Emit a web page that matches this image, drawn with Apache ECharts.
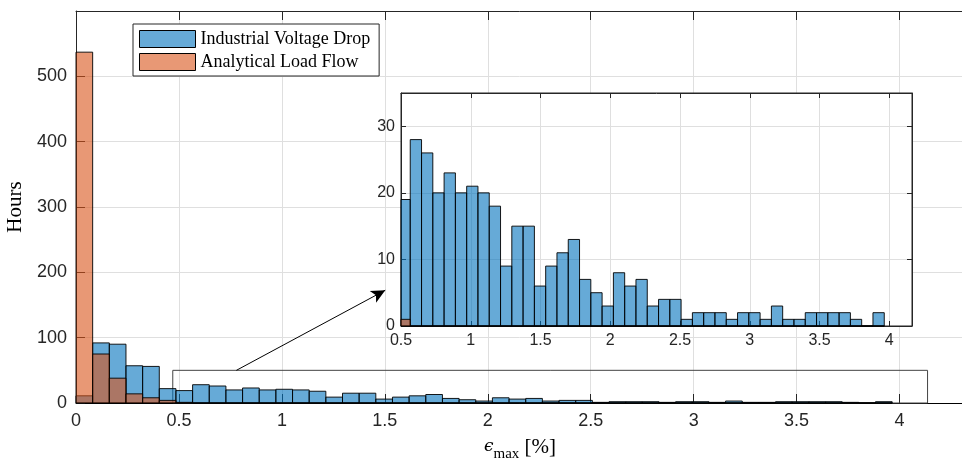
<!DOCTYPE html>
<html><head><meta charset="utf-8">
<script src="https://cdn.jsdelivr.net/npm/echarts@6/dist/echarts.min.js"></script>
<style>html,body{margin:0;padding:0;background:#fff}#c{width:962px;height:467px}</style>
</head><body><div id="c"></div>
<script>
// ---- data (histogram counts, bins of equal width starting at 0) ----
const binWidth = 0.0809;
const seriesNames = ['Industrial Voltage Drop', 'Analytical Load Flow'];
const industrialVoltageDrop = [11,92,90,57,56,22,19,28,26,20,23,20,21,20,18,9,15,15,6,9,11,13,7,5,3,8,6,7,3,4,4,1,2,2,2,1,2,2,1,3,1,1,2,2,2,2,1,0,2];
const analyticalLoadFlow   = [537,75,38,14,8,4,1,0,0,0,0,0,0,0,0,0,0,0,0,0,0,0,0,0,0,0,0,0,0,0,0,0,0,0,0,0,0,0,0,0,0,0,0,0,0,0,0,0,0];
const mainXTicks = [0,0.5,1,1.5,2,2.5,3,3.5,4];
const mainYTicks = [0,100,200,300,400,500];
const insetXTicks = [0.5,1,1.5,2,2.5,3,3.5,4];
const insetYTicks = [0,10,20,30];
// zoom-box annotation (data units of the main axes) and arrow
const zoomBoxX = [0.47, 4.136];
const zoomBoxY = [0, 50];
const arrowFrom = [0.779, 50];
const arrowTo = [1.502, 172.6];

const toBins = arr => arr.map((v, i) => [i * binWidth, (i + 1) * binWidth, v]);

function renderBars(params, api) {
  const x0 = api.value(0), x1 = api.value(1), v = api.value(2);
  const p0 = api.coord([x0, v]);
  const p1 = api.coord([x1, 0]);
  const cs = params.coordSys;
  const r = echarts.graphic.clipRectByRect(
    {x: p0[0], y: p0[1], width: p1[0] - p0[0], height: p1[1] - p0[1]},
    {x: cs.x, y: cs.y, width: cs.width, height: cs.height});
  if (!r) return;
  return {type: 'rect', shape: r, style: {fill: api.visual('color'), stroke: 'rgba(0,0,0,0.9)', lineWidth: 1}};
}

const BLUE = 'rgba(0,114,189,0.6)';
const ORANGE = 'rgba(217,83,25,0.6)';
const AX = '#262626';
const GRIDC = '#dfdfdf';
const sans = 'Liberation Sans, Arial, sans-serif';
const serif = 'Liberation Serif, Times New Roman, serif';

const inTicks = len => ({show: true, inside: true, length: len, lineStyle: {color: AX, width: 1}});
const valFmt = v => String(+v.toFixed(2));

const chart = echarts.init(document.getElementById('c'), null, {renderer: 'canvas'});
chart.setOption({
  animation: false,
  backgroundColor: '#fff',
  legend: {
    data: seriesNames,
    orient: 'vertical',
    left: 133, top: 24,
    padding: [6, 9, 5, 6],
    itemGap: 5,
    itemWidth: 56, itemHeight: 17,
    icon: 'rect',
    itemStyle: {borderColor: '#000', borderWidth: 1},
    textStyle: {fontFamily: serif, fontSize: 18, color: '#000', padding: [0,0,0,0]},
    backgroundColor: '#fff',
    borderColor: AX, borderWidth: 1,
    z: 30,
    selectedMode: false
  },
  grid: [
    {left: 76, top: 11, right: -2, bottom: 64, show: false, containLabel: false, outerBoundsMode: 'none'},
    {left: 401, top: 93, right: 50, bottom: 141, show: true, backgroundColor: '#fff', borderColor: AX, borderWidth: 1, z: 10, containLabel: false, outerBoundsMode: 'none'}
  ],
  xAxis: [
    {gridIndex: 0, type: 'value', min: 0, max: 4.313, interval: 0.5, position: 'bottom',
     axisLine: {show: true, onZero: false, lineStyle: {color: '#000', width: 1}},
     axisTick: inTicks(9),
     axisLabel: {show: true, margin: 9, fontFamily: sans, fontSize: 18, color: AX, showMaxLabel: false,
       formatter: v => mainXTicks.some(t => Math.abs(t - v) < 1e-6) ? valFmt(v) : ''},
     splitLine: {show: true, lineStyle: {color: GRIDC, width: 1}},
     name: '{e|ϵ}{s|max}{b| [%]}', nameLocation: 'middle', nameGap: 29,
     nameTextStyle: {rich: {
       e: {fontFamily: 'DejaVu Serif', fontStyle: 'italic', fontSize: 17, color: '#000', lineHeight: 30, verticalAlign: 'middle'},
       s: {fontFamily: serif, fontSize: 15, color: '#000', lineHeight: 14, verticalAlign: 'bottom'},
       b: {fontFamily: serif, fontSize: 21, color: '#000', lineHeight: 30, verticalAlign: 'middle'}
     }}},
    {gridIndex: 0, type: 'value', min: 0, max: 4.313, interval: 0.5, position: 'top',
     axisLine: {show: true, onZero: false, lineStyle: {color: AX, width: 1}},
     axisTick: inTicks(9), axisLabel: {show: false}, splitLine: {show: false}},
    {gridIndex: 1, type: 'value', min: 0.5, max: 4.163, interval: 0.5, position: 'bottom', z: 11,
     axisLine: {show: true, onZero: false, lineStyle: {color: AX, width: 1}},
     axisTick: inTicks(5),
     axisLabel: {show: true, margin: 7, fontFamily: sans, fontSize: 16, color: AX, showMaxLabel: false,
       formatter: v => insetXTicks.some(t => Math.abs(t - v) < 1e-6) ? valFmt(v) : ''},
     splitLine: {show: true, lineStyle: {color: GRIDC, width: 1}}},
    {gridIndex: 1, type: 'value', min: 0.5, max: 4.163, interval: 0.5, position: 'top', z: 11,
     axisLine: {show: true, onZero: false, lineStyle: {color: AX, width: 1}},
     axisTick: inTicks(5), axisLabel: {show: false}, splitLine: {show: false}}
  ],
  yAxis: [
    {gridIndex: 0, type: 'value', min: 0, max: 600, interval: 100, position: 'left',
     axisLine: {show: true, onZero: false, lineStyle: {color: AX, width: 1}},
     axisTick: inTicks(9),
     axisLabel: {show: true, margin: 9, fontFamily: sans, fontSize: 18, color: AX, showMaxLabel: false,
       formatter: v => mainYTicks.includes(v) ? String(v) : ''},
     splitLine: {show: true, lineStyle: {color: GRIDC, width: 1}},
     name: 'Hours', nameLocation: 'middle', nameGap: 39,
     nameTextStyle: {fontFamily: serif, fontSize: 21, color: '#000'}},
    {gridIndex: 1, type: 'value', min: 0, max: 35, interval: 10, position: 'left', z: 11,
     axisLine: {show: true, onZero: false, lineStyle: {color: AX, width: 1}},
     axisTick: inTicks(5),
     axisLabel: {show: true, margin: 6, fontFamily: sans, fontSize: 16, color: AX, showMaxLabel: false,
       formatter: v => insetYTicks.includes(v) ? String(v) : ''},
     splitLine: {show: true, lineStyle: {color: GRIDC, width: 1}}},
    {gridIndex: 1, type: 'value', min: 0, max: 35, interval: 10, position: 'right', z: 11,
     axisLine: {show: true, onZero: false, lineStyle: {color: AX, width: 1}},
     axisTick: inTicks(5), axisLabel: {show: false}, splitLine: {show: false}}
  ],
  series: [
    {name: seriesNames[0], type: 'custom', xAxisIndex: 0, yAxisIndex: 0, z: 2,
     itemStyle: {color: BLUE, borderColor: '#000', borderWidth: 1},
     encode: {x: [0, 1], y: 2}, renderItem: renderBars, data: toBins(industrialVoltageDrop), silent: true},
    {name: seriesNames[1], type: 'custom', xAxisIndex: 0, yAxisIndex: 0, z: 3,
     itemStyle: {color: ORANGE, borderColor: '#000', borderWidth: 1},
     encode: {x: [0, 1], y: 2}, renderItem: renderBars, data: toBins(analyticalLoadFlow), silent: true},
    {name: 'annotation', type: 'line', xAxisIndex: 0, yAxisIndex: 0, z: 4, data: [], symbol: 'none', silent: true,
     markArea: {silent: true, itemStyle: {color: 'rgba(0,0,0,0)', borderColor: '#444', borderWidth: 1},
       label: {show: false},
       data: [[{coord: [zoomBoxX[0], zoomBoxY[0]]}, {coord: [zoomBoxX[1], zoomBoxY[1]]}]]},
     markLine: {silent: true, symbol: ['none', 'arrow'], symbolSize: [10, 14], label: {show: false},
       lineStyle: {color: '#000', width: 1, type: 'solid'},
       data: [[{coord: arrowFrom}, {coord: arrowTo}]]}},
    {name: seriesNames[0], type: 'custom', xAxisIndex: 2, yAxisIndex: 1, z: 12,
     itemStyle: {color: BLUE, borderColor: '#000', borderWidth: 1},
     encode: {x: [0, 1], y: 2}, renderItem: renderBars, data: toBins(industrialVoltageDrop), silent: true},
    {name: seriesNames[1], type: 'custom', xAxisIndex: 2, yAxisIndex: 1, z: 13,
     itemStyle: {color: ORANGE, borderColor: '#000', borderWidth: 1},
     encode: {x: [0, 1], y: 2}, renderItem: renderBars, data: toBins(analyticalLoadFlow), silent: true}
  ]
});
</script></body></html>
